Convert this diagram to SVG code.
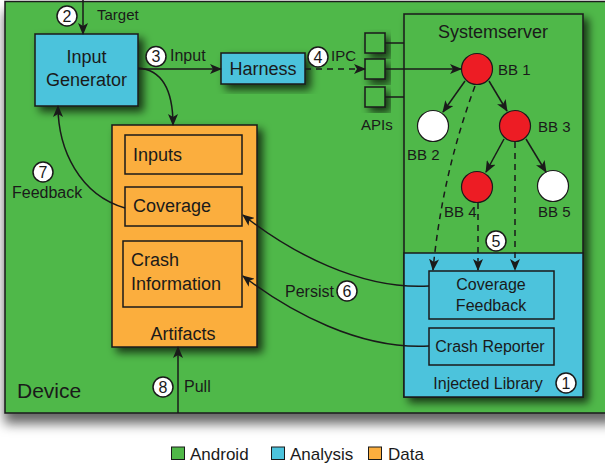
<svg xmlns="http://www.w3.org/2000/svg" width="605" height="465" viewBox="0 0 605 465">
<style>
text{font-family:"Liberation Sans",Arial,sans-serif;fill:#1a1a1a}
.big{font-size:18px}
.mid{font-size:16px}
.sm{font-size:15px}
.ln{stroke:#1a1a1a;stroke-width:1.5;fill:none}
.dash{stroke-dasharray:6 5}
.green{fill:#50b848;stroke:#1a1a1a;stroke-width:1.5}
.cyan{fill:#4cc3dc;stroke:#1a1a1a;stroke-width:1.5}
.orange{fill:#fbae3e;stroke:#1a1a1a;stroke-width:1.5}
.red{fill:#ed1c24;stroke:#1a1a1a;stroke-width:1.2}
.white{fill:#ffffff;stroke:#1a1a1a;stroke-width:1.2}
.num{fill:#ffffff;stroke:#1a1a1a;stroke-width:1.5}
.nt{font-size:16px;text-anchor:middle}
</style>
<defs>
<filter id="sh" x="-20%" y="-20%" width="150%" height="150%">
<feDropShadow dx="5" dy="5" stdDeviation="4" flood-color="#000" flood-opacity="0.7"/>
</filter>
<filter id="shd" x="-10%" y="-10%" width="120%" height="130%">
<feDropShadow dx="0" dy="10" stdDeviation="6" flood-color="#000" flood-opacity="0.6"/>
</filter>
<marker id="ah" viewBox="0 0 12 10" refX="11" refY="5" markerWidth="12" markerHeight="10" markerUnits="userSpaceOnUse" orient="auto">
<path d="M0,0 L12,5 L0,10 L3,5 Z" fill="#1a1a1a"/>
</marker>
</defs>

<g id="device">
<rect x="5" y="1.5" width="610" height="411.5" class="green" filter="url(#shd)"/>
<text x="17" y="398" style="font-size:21px">Device</text>
</g>

<g id="input-generator">
<rect x="35" y="34" width="103" height="72" class="cyan" filter="url(#sh)"/>
<text x="86.5" y="63" class="big" text-anchor="middle">Input</text>
<text x="86.5" y="86" class="big" text-anchor="middle">Generator</text>
</g>

<g id="harness">
<rect x="221" y="53" width="84" height="31" class="cyan" filter="url(#sh)"/>
<text x="263" y="75" class="big" text-anchor="middle">Harness</text>
</g>

<g id="apis">
<rect x="365" y="33" width="20" height="20" class="green" filter="url(#sh)"/>
<rect x="365" y="59" width="20" height="20" class="green" filter="url(#sh)"/>
<rect x="365" y="87" width="20" height="20" class="green" filter="url(#sh)"/>
<text x="361" y="130" class="sm">APIs</text>
</g>

<g id="systemserver">
<rect x="404" y="14" width="179" height="383" class="green" filter="url(#sh)"/>
<text x="493" y="38" class="big" text-anchor="middle">Systemserver</text>
</g>

<g id="injected-library">
<rect x="404" y="253" width="179" height="144" class="cyan"/>
<text x="488" y="389" class="mid" text-anchor="middle">Injected Library</text>
</g>

<g id="coverage-feedback">
<rect x="429" y="271" width="125" height="48" class="cyan"/>
<text x="491" y="290" class="mid" text-anchor="middle">Coverage</text>
<text x="491" y="311" class="mid" text-anchor="middle">Feedback</text>
</g>

<g id="crash-reporter">
<rect x="429" y="328" width="125" height="37" class="cyan"/>
<text x="490" y="352" class="mid" text-anchor="middle">Crash Reporter</text>
</g>

<g id="artifacts">
<rect x="112" y="125" width="145" height="222" class="orange" filter="url(#sh)"/>
<text x="183" y="340" class="big" text-anchor="middle">Artifacts</text>
</g>
<g id="inputs">
<rect x="125" y="135" width="117" height="39" class="orange"/>
<text x="133" y="161" class="big">Inputs</text>
</g>
<g id="coverage">
<rect x="125" y="187" width="117" height="39" class="orange"/>
<text x="133" y="212" class="big">Coverage</text>
</g>
<g id="crash-information">
<rect x="123" y="241" width="119" height="66" class="orange"/>
<text x="131" y="266" class="big">Crash</text>
<text x="131" y="290" class="big">Information</text>
</g>

<g id="bb1"><circle cx="477" cy="69" r="15.5" class="red"/><text x="498" y="75" class="sm">BB 1</text></g>
<g id="bb2"><circle cx="433" cy="126" r="15.5" class="white"/><text x="407" y="160" class="sm">BB 2</text></g>
<g id="bb3"><circle cx="515" cy="126" r="15.5" class="red"/><text x="538" y="132" class="sm">BB 3</text></g>
<g id="bb4"><circle cx="477" cy="187" r="15.5" class="red"/><text x="444" y="217" class="sm">BB 4</text></g>
<g id="bb5"><circle cx="553" cy="186" r="15.5" class="white"/><text x="538" y="217" class="sm">BB 5</text></g>

<g id="connectors">
<line x1="83" y1="0" x2="83" y2="34" class="ln" marker-end="url(#ah)"/>
<line x1="138" y1="69" x2="221" y2="69" class="ln" marker-end="url(#ah)"/>
<line x1="305" y1="69" x2="365" y2="69" class="ln dash" marker-end="url(#ah)"/>
<line x1="385" y1="43" x2="404" y2="43" class="ln"/>
<line x1="385" y1="97" x2="404" y2="97" class="ln"/>
<line x1="385" y1="69" x2="461" y2="69" class="ln" marker-end="url(#ah)"/>
<line x1="465" y1="81" x2="443" y2="112" class="ln" marker-end="url(#ah)"/>
<line x1="489" y1="81" x2="507" y2="111" class="ln" marker-end="url(#ah)"/>
<line x1="504" y1="139" x2="486" y2="172" class="ln" marker-end="url(#ah)"/>
<line x1="526" y1="139" x2="546" y2="172" class="ln" marker-end="url(#ah)"/>
<path d="M475,86 Q442,175 433,270" class="ln dash" marker-end="url(#ah)"/>
<line x1="478" y1="203" x2="478" y2="270" class="ln dash" marker-end="url(#ah)"/>
<line x1="515" y1="142" x2="515" y2="270" class="ln dash" marker-end="url(#ah)"/>
<path d="M138,68 C165,70 173,95 173,125" class="ln" marker-end="url(#ah)"/>
<path d="M125,208 C80,195 58,150 58,106" class="ln" marker-end="url(#ah)"/>
<path d="M429,286 C360,290 290,252 243,215" class="ln" marker-end="url(#ah)"/>
<path d="M429,346 C360,350 290,312 243,276" class="ln" marker-end="url(#ah)"/>
<line x1="178" y1="413" x2="178" y2="347" class="ln" marker-end="url(#ah)"/>
</g>

<g id="labels">
<text x="97" y="20" class="sm">Target</text>
<text x="170" y="61" class="mid">Input</text>
<text x="331" y="61" class="sm">IPC</text>
<text x="12" y="198" class="mid">Feedback</text>
<text x="285" y="297" class="mid">Persist</text>
<text x="184" y="392" class="mid">Pull</text>
</g>

<g id="steps">
<circle cx="566" cy="383" r="10" class="num"/><text x="566" y="388.5" class="nt">1</text>
<circle cx="67" cy="16" r="10" class="num"/><text x="67" y="21.5" class="nt">2</text>
<circle cx="156" cy="56.5" r="10" class="num"/><text x="156" y="62" class="nt">3</text>
<circle cx="318" cy="57" r="10" class="num"/><text x="318" y="62.5" class="nt">4</text>
<circle cx="496" cy="241" r="10" class="num"/><text x="496" y="246.5" class="nt">5</text>
<circle cx="347" cy="291" r="10" class="num"/><text x="347" y="296.5" class="nt">6</text>
<circle cx="43" cy="172" r="10" class="num"/><text x="43" y="177.5" class="nt">7</text>
<circle cx="163" cy="387" r="10" class="num"/><text x="163" y="392.5" class="nt">8</text>
</g>

<g id="legend">
<rect x="171.5" y="447" width="13" height="12.5" class="green" style="stroke-width:1"/>
<text x="190" y="459.5" style="font-size:17px">Android</text>
<rect x="271.5" y="447" width="13" height="12.5" class="cyan" style="stroke-width:1"/>
<text x="290" y="459.5" style="font-size:17px">Analysis</text>
<rect x="368.5" y="447" width="13" height="12.5" class="orange" style="stroke-width:1"/>
<text x="388" y="459.5" style="font-size:17px">Data</text>
</g>
</svg>
